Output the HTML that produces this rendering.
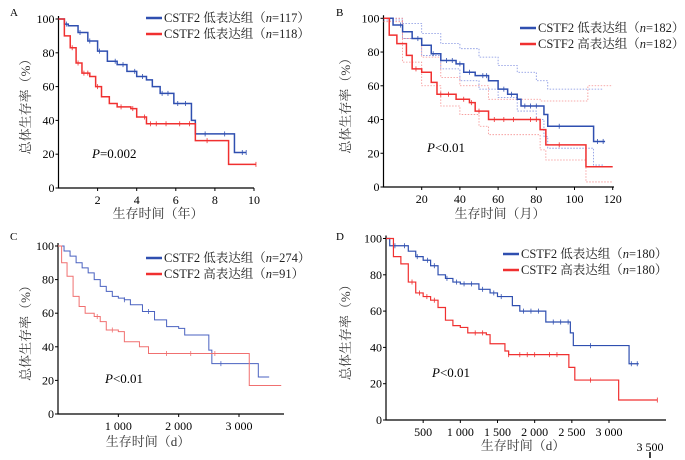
<!DOCTYPE html>
<html><head><meta charset="utf-8"><style>
html,body{margin:0;padding:0;background:#fff;}
svg{display:block;font-family:"Liberation Serif","Noto Serif CJK SC",serif;}
</style></head><body>
<svg id="fig" width="685" height="460" viewBox="0 0 685 460"></svg>
<script>
// Panel A (years)
const aLow=[[0,100],[0.3,97],[0.5,96],[1,92],[1.5,87],[2,81],[2.5,75],[3,73],[3.5,69],[4,66],[4.5,64],[4.8,60],[5.2,56],[5.8,56],[5.9,50],[6.7,50],[6.8,40],[7,32],[8.9,32],[9,21],[9.6,21]];
const aHigh=[[0,100],[0.3,90],[0.6,83],[0.9,74],[1.2,68],[1.6,66],[1.9,60],[2.2,54],[2.6,50],[3,48],[3.7,47],[4,42],[4.5,38],[6.9,38],[7,28],[8.6,28],[8.7,14],[10.1,14]];
const aLowCens=[0.4,1.1,1.6,2.1,2.9,3.3,3.9,4.3,5.3,5.6,6.1,6.5,7.5,8.5,9.4,9.6];
const aHighCens=[0.7,1,1.3,1.5,2,3.2,3.8,4.4,4.7,5,5.5,6.2,6.7,7.6,10.1];
// Panel B (months)
const bLow=[[0,100],[5,96],[10,92],[15,88],[20,84],[25,79],[30,75],[38,73],[42,68],[48,66],[55,63],[60,58],[65,55],[70,52],[72,48],[82,48],[84,43],[86,36],[108,36],[110,27],[116,27]];
const bHigh=[[0,100],[3,90],[7,85],[12,78],[15,70],[20,68],[25,62],[28,55],[32,55],[38,52],[45,50],[48,45],[55,40],[80,40],[82,34],[85,25],[105,25],[106,12],[120,12]];
const bLowUp=[[0,100],[10,97],[20,91],[30,85],[40,82],[50,77],[60,72],[70,68],[80,63],[86,58],[115,58]];
const bLowDn=[[0,99],[10,88],[20,78],[30,70],[40,63],[50,58],[60,53],[70,45],[80,40],[84,30],[86,23],[108,23],[110,13],[115,13]];
const bHighUp=[[0,100],[10,88],[20,77],[30,65],[40,60],[55,52],[82,51],[106,51],[107,60],[120,60]];
const bHighDn=[[0,98],[10,74],[20,60],[30,48],[40,43],[50,36],[55,31],[80,31],[82,22],[85,16],[105,16],[106,3],[120,3]];
const bLowCens=[9,18,26,33,36,40,45,52,54,63,67,74,77,80,92,112,115];
const bHighCens=[17,30,34,42,46,50,58,63,68,77,80,92];
// Panel C (days)
const cLow=[[0,100],[100,97],[200,94],[300,90],[400,87],[500,84],[600,80],[700,76],[800,73],[900,70],[1000,69],[1100,68],[1200,65],[1400,61],[1600,56],[1800,52],[2000,51],[2100,47],[2400,47],[2500,38],[2550,30],[3300,30],[3320,22],[3500,22]];
const cHigh=[[0,100],[60,90],[150,82],[250,70],[350,64],[450,60],[600,58],[700,55],[800,50],[1000,49],[1100,43],[1350,40],[1500,36],[3150,36],[3170,17],[3700,17]];
const cLowCens=[1100,1500,2700];
const cHighCens=[650,900,1800,2200,2600];
// Panel D (days)
const dLow=[[0,100],[50,96],[200,96],[300,93],[400,90],[500,88],[600,85],[700,80],[800,78],[900,76],[1000,75],[1200,75],[1250,72],[1400,70],[1500,68],[1700,63],[1800,60],[2100,60],[2150,54],[2450,54],[2480,48],[2520,41],[3250,41],[3270,31],[3400,31]];
const dHigh=[[0,100],[100,90],[200,86],[300,76],[400,70],[500,68],[600,66],[700,62],[800,55],[900,52],[1000,51],[1100,48],[1350,47],[1400,42],[1600,38],[1650,36],[2450,36],[2460,29],[2540,22],[3120,22],[3130,11],[3650,11]];
const dLowCens=[120,250,420,560,650,820,950,1050,1150,1300,1450,1550,1850,1950,2050,2250,2350,2450,2750,3300,3380];
const dHighCens=[350,450,550,650,1200,1300,1650,1800,1900,2000,2200,2300,2750,3650];
const yTicks=[0,20,40,60,80,100];
const aXTicks=[2,4,6,8,10], bXTicks=[20,40,60,80,100,120], cXTicks=[1000,2000,3000], dXTicks=[500,1000,1500,2000,2500,3000];
const cLab=["1 000","2 000","3 000"], dLab=["500","1 000","1 500","2 000","2 500","3 000"];

const NS="http://www.w3.org/2000/svg", svg=document.getElementById('fig');
function mk(tag,at,parent){const e=document.createElementNS(NS,tag);for(const k in at)e.setAttribute(k,at[k]);(parent||svg).appendChild(e);return e;}
function stepPath(pts,X,Y){let d='M'+X(pts[0][0])+','+Y(pts[0][1]);for(let i=1;i<pts.length;i++){d+='H'+X(pts[i][0])+'V'+Y(pts[i][1]);}return d;}
function valAt(pts,t){let v=pts[0][1];for(const p of pts){if(p[0]<=t)v=p[1];}return v;}
function panel(cfg){
  const g=mk('g',{});
  
  
  const X=t=>cfg.x0+(t-0)*(cfg.x1-cfg.x0)/cfg.xmax, Y=v=>cfg.y0-(v/100)*(cfg.y0-cfg.y100);
  const ax=mk('path',{d:`M${cfg.x0},${cfg.y100-3}V${cfg.y0}H${cfg.axEnd}`,fill:'none',stroke:'#000','stroke-width':1.2},g);
  
  
  yTicks.forEach(v=>{
    mk('line',{x1:cfg.x0-3,x2:cfg.x0,y1:Y(v),y2:Y(v),stroke:'#000'},g);
    const t=mk('text',{x:cfg.x0-4,y:Y(v)+4,'text-anchor':'end','font-size':12},g);t.textContent=v;
    
    
  });
  cfg.xt.forEach((v,i)=>{
    mk('line',{x1:X(v),x2:X(v),y1:cfg.y0,y2:cfg.y0+3,stroke:'#000'},g);
    const t=mk('text',{x:X(v),y:cfg.y0+16,'text-anchor':'middle','font-size':12},g);t.textContent=cfg.xl?cfg.xl[i]:v;
    
    
  });
  (cfg.ci||[]).forEach(c=>{const p=mk('path',{d:stepPath(c[0],X,Y),fill:'none',stroke:c[1],'stroke-width':0.8,'stroke-dasharray':'1.5,1.5'},g);
    
    });
  cfg.series.forEach(s=>{
    const p=mk('path',{d:stepPath(s.pts,X,Y),fill:'none',stroke:s.col,'stroke-width':s.w},g);
    
    
    s.cens.forEach(t=>{const v=valAt(s.pts,t);const c=mk('line',{x1:X(t),x2:X(t),y1:Y(v)-2.5,y2:Y(v)+2.5,stroke:s.col,'stroke-width':0.8},g);
      
      });
  });
  // legend
  cfg.leg.forEach((l,i)=>{
    const yy=cfg.ly+i*16;
    const ln=mk('line',{x1:cfg.lx,x2:cfg.lx+16,y1:yy,y2:yy,stroke:l[0],'stroke-width':2.5},g);
    
    
    const t=mk('text',{x:cfg.lx+18,y:yy+4,'font-size':12.5,fill:'#222'},g);
    t.innerHTML=l[1]+'（<tspan font-style="italic">n</tspan>='+l[2]+'）';
    
    
  });
  const pt=mk('text',{x:cfg.px,y:cfg.py,'font-size':13},g);pt.innerHTML='<tspan font-style="italic">P</tspan>'+cfg.ptxt;
  
  
  const lt=mk('text',{x:cfg.lbx,y:cfg.lby,'font-size':11},g);lt.textContent=cfg.letter;
  
  
  const xt=mk('text',{x:cfg.xtx,y:cfg.xty,'text-anchor':'middle','font-size':13,fill:'#333'},g);xt.textContent=cfg.xtitle;
  
  
  const cy=(cfg.y0+cfg.y100)/2;
  const yt=mk('text',{x:cfg.ytx,y:cy,'text-anchor':'middle','font-size':13,fill:'#333',transform:`rotate(-90 ${cfg.ytx} ${cy})`},g);yt.textContent='总体生存率（%）';
  
  
}
const B='#2f4fb0',R='#f03030';
panel({name:'panel-a',x0:58.5,x1:254,xmax:10,axEnd:254,y0:188,y100:19,xt:aXTicks,
  series:[{pts:aLow,col:B,w:1.5,name:'line-low-expression',cens:aLowCens},{pts:aHigh,col:R,w:1.5,name:'line-high-expression',cens:aHighCens}],
  leg:[[B,'CSTF2 低表达组','117'],[R,'CSTF2 低表达组','118']],lx:146,ly:18,px:92,py:158,ptxt:'=0.002',letter:'A',lbx:10,lby:16,xtitle:'生存时间（年）',xtx:158,xty:218,ytx:30});
panel({name:'panel-b',x0:383.5,x1:612.7,xmax:120,axEnd:614,y0:187,y100:18.3,xt:bXTicks,
  ci:[[bLowUp,'#7f8fe0'],[bLowDn,'#7f8fe0'],[bHighUp,'#f59090'],[bHighDn,'#f59090']],
  series:[{pts:bLow,col:B,w:1.5,name:'line-low-expression',cens:bLowCens},{pts:bHigh,col:R,w:1.5,name:'line-high-expression',cens:bHighCens}],
  leg:[[B,'CSTF2 低表达组','182'],[R,'CSTF2 高表达组','182']],lx:520,ly:28,px:427,py:152,ptxt:'<0.01',letter:'B',lbx:336,lby:16,xtitle:'生存时间（月）',xtx:500,xty:218,ytx:350});
panel({name:'panel-c',x0:58,x1:239,xmax:3000,axEnd:284,y0:414,y100:246,xt:cXTicks,xl:cLab,
  series:[{pts:cLow,col:'#4a62c0',w:1,name:'line-low-expression',cens:cLowCens},{pts:cHigh,col:'#f07070',w:1,name:'line-high-expression',cens:cHighCens}],
  leg:[[B,'CSTF2 低表达组','274'],[R,'CSTF2 高表达组','91']],lx:146,ly:258,px:105,py:383,ptxt:'<0.01',letter:'C',lbx:10,lby:240,xtitle:'生存时间（d）',xtx:148,xty:446,ytx:30});
panel({name:'panel-d',x0:386,x1:609,xmax:3000,axEnd:666,y0:420,y100:238.5,xt:dXTicks,xl:dLab,
  series:[{pts:dLow,col:B,w:1.2,name:'line-low-expression',cens:dLowCens},{pts:dHigh,col:R,w:1.2,name:'line-high-expression',cens:dHighCens}],
  leg:[[B,'CSTF2 低表达组','180'],[R,'CSTF2 高表达组','180']],lx:503,ly:254,px:432,py:377,ptxt:'<0.01',letter:'D',lbx:336,lby:240,xtitle:'生存时间（d）',xtx:523,xty:450,ytx:350});
const e=mk('text',{x:650,y:451,'text-anchor':'middle','font-size':12});e.textContent='3 500';


const em=mk('line',{x1:650,x2:650,y1:452,y2:458,stroke:'#000','stroke-width':1.5});


</script>
</body></html>
